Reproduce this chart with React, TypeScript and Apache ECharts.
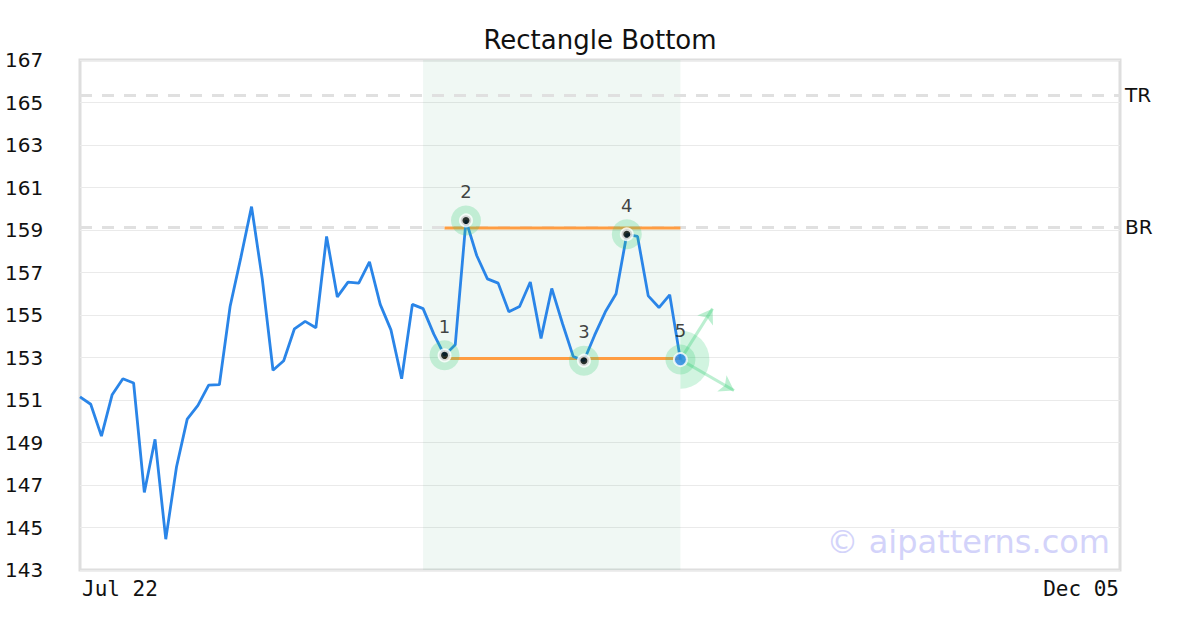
import React, { useEffect, useRef } from "react";
import * as echarts from "echarts";

const MONTHS = ["Jan", "Feb", "Mar", "Apr", "May", "Jun", "Jul", "Aug", "Sep", "Oct", "Nov", "Dec"];

// trading-day categories from Jul 22 to Dec 05
const dates: string[] = (() => {
  const out: string[] = [];
  const d = new Date(2024, 6, 22);
  const end = new Date(2024, 11, 5);
  while (d <= end) {
    const wd = d.getDay();
    const holiday = d.getMonth() === 10 && d.getDate() === 28;
    if (wd !== 0 && wd !== 6 && !holiday) {
      out.push(MONTHS[d.getMonth()] + " " + String(d.getDate()).padStart(2, "0"));
    }
    d.setDate(d.getDate() + 1);
  }
  return out;
})();

const prices = [
  151.15, 150.8, 149.3, 151.25, 152.0, 151.8, 146.65, 149.15, 144.45, 147.85,
  150.1, 150.75, 151.7, 151.72, 155.4, 157.7, 160.1, 156.7, 152.4, 152.85,
  154.35, 154.7, 154.4, 158.7, 155.85, 156.55, 156.5, 157.5, 155.5, 154.3,
  152.0, 155.5, 155.3, 154.1, 153.1, 153.6, 159.45, 157.8, 156.7, 156.5,
  155.15, 155.4, 156.55, 153.9, 156.25, 154.6, 153.05, 152.85, 154.05, 155.15,
  156.0, 158.8, 158.7, 155.9, 155.35, 155.95, 152.9,
];

const pivotIdx = [34, 36, 47, 51, 56];
const pivotLabels = ["1", "2", "3", "4", "5"];
const rectTop = 159.1;
const rectBottom = 152.95;
const rectStart = 34;
const rectEnd = 56;
const zoneStart = 32;
const zoneEnd = 56;
const levelNames = ["TR", "BR"];
const levelValues = [165.33, 159.12];
const arrowUpEnd = [59, 155.3];
const arrowDownEnd = [61, 151.45];
const yMin = 143;
const yMax = 167;
const yStep = 2;

const FONT = "DejaVu Sans";
const GREEN_HALO = "rgba(46,204,113,0.3)";
const ARROW_COLOR = "rgba(46,204,113,0.32)";

export default function App() {
  const ref = useRef<HTMLDivElement>(null);

  useEffect(() => {
    if (!ref.current) return;
    const chart = echarts.init(ref.current, undefined, { renderer: "svg" });
    const last = dates.length - 1;
    const pivotData = pivotIdx.map((i) => [i, prices[i]]);
    const finalIdx = pivotIdx[pivotIdx.length - 1];
    const finalPt = [finalIdx, prices[finalIdx]];
    const dotData = pivotData.map((p, k) =>
      k === pivotData.length - 1
        ? { value: p, symbolSize: 13, itemStyle: { color: "#2a85e8", borderColor: "#fff", borderWidth: 2 } }
        : { value: p }
    );

    chart.setOption({
      animation: false,
      backgroundColor: "#ffffff",
      title: {
        text: "Rectangle Bottom",
        left: "center",
        top: 22,
        textStyle: { fontFamily: FONT, fontSize: 26, fontWeight: "normal", color: "#111" },
      },
      grid: {
        left: 80,
        right: 80,
        top: 60,
        bottom: 60,
        show: true,
        borderColor: "#dedede",
        borderWidth: 3,
        backgroundColor: "transparent",
      },
      xAxis: {
        type: "category",
        data: dates,
        boundaryGap: false,
        axisLine: { show: false },
        axisTick: { show: false },
        splitLine: { show: false },
        axisLabel: {
          interval: (i: number) => i === 0 || i === last,
          showMinLabel: true,
          showMaxLabel: true,
          alignMinLabel: "left",
          alignMaxLabel: "right",
          margin: 8,
          padding: [0, 1, 0, 2],
          fontFamily: "DejaVu Sans Mono",
          fontSize: 21,
          color: "#111",
        },
      },
      yAxis: {
        type: "value",
        min: yMin,
        max: yMax,
        interval: yStep,
        axisLine: { show: false },
        axisTick: { show: false },
        splitLine: { show: true, lineStyle: { color: "#eaeaea", width: 1 } },
        axisLabel: {
          align: "left",
          margin: 75,
          fontFamily: FONT,
          fontSize: 20,
          color: "#111",
        },
      },
      graphic: [
        {
          type: "text",
          x: 1110,
          y: 542,
          z: 0,
          style: {
            text: "© aipatterns.com",
            fontFamily: FONT,
            fontSize: 32,
            fill: "#d3d3fa",
            align: "right",
            verticalAlign: "middle",
          },
        },
      ],
      series: [
        {
          type: "line",
          name: "levels",
          data: [],
          z: 1,
          markLine: {
            silent: true,
            z: 1,
            symbol: ["none", "none"],
            lineStyle: { color: "#e0e0e0", type: [12, 10], width: 3 },
            label: {
              show: true,
              position: "end",
              distance: 5,
              fontFamily: FONT,
              fontSize: 20,
              color: "#111",
              formatter: (p: any) => p.name,
            },
            data: levelValues.map((v, i) => ({ name: levelNames[i], yAxis: v })),
          },
          markArea: {
            silent: true,
            z: 0,
            itemStyle: { color: "rgba(60,170,120,0.08)" },
            data: [[{ xAxis: zoneStart }, { xAxis: zoneEnd }]],
          },
        },
        {
          type: "line",
          name: "top",
          data: [[rectStart, rectTop], [rectEnd, rectTop]],
          symbol: "none",
          lineStyle: { color: "#ff9d42", width: 3 },
          z: 2,
        },
        {
          type: "line",
          name: "bottom",
          data: [[rectStart, rectBottom], [rectEnd, rectBottom]],
          symbol: "none",
          lineStyle: { color: "#ff9d42", width: 3 },
          z: 2,
        },
        {
          type: "line",
          name: "price",
          data: prices,
          symbol: "none",
          lineStyle: { color: "#2a85e8", width: 2.8 },
          z: 3,
        },
        {
          type: "custom",
          name: "fan",
          data: [finalPt],
          z: 4,
          renderItem: (_p: any, api: any) => {
            const c = api.coord([api.value(0), api.value(1)]);
            return {
              type: "sector",
              shape: { cx: c[0], cy: c[1], r0: 0, r: 29, startAngle: -Math.PI / 2, endAngle: Math.PI / 2 },
              style: { fill: "rgba(46,204,113,0.22)" },
            };
          },
          markLine: {
            silent: true,
            z: 4,
            symbol: ["none", "arrow"],
            symbolSize: 14,
            lineStyle: { color: ARROW_COLOR, width: 3, type: "solid" },
            label: { show: false },
            data: [
              [{ coord: finalPt }, { coord: arrowUpEnd }],
              [{ coord: finalPt }, { coord: arrowDownEnd }],
            ],
          },
        },
        {
          type: "scatter",
          name: "halo",
          data: pivotData,
          symbol: "circle",
          symbolSize: 30,
          itemStyle: { color: GREEN_HALO },
          z: 5,
          label: {
            show: true,
            position: "top",
            distance: 5,
            fontFamily: FONT,
            fontSize: 18,
            color: "#111",
            formatter: (p: any) => pivotLabels[p.dataIndex],
          },
        },
        {
          type: "scatter",
          name: "dots",
          data: dotData,
          symbol: "circle",
          symbolSize: 10.5,
          z: 6,
          itemStyle: {
            color: "#000",
            borderColor: "#fff",
            borderWidth: 3.5,
          },
        },
      ],
    });

    return () => chart.dispose();
  }, []);

  return (
    <div
      ref={ref}
      style={{ position: "fixed", left: 0, top: 0, width: 1200, height: 630 }}
    />
  );
}
